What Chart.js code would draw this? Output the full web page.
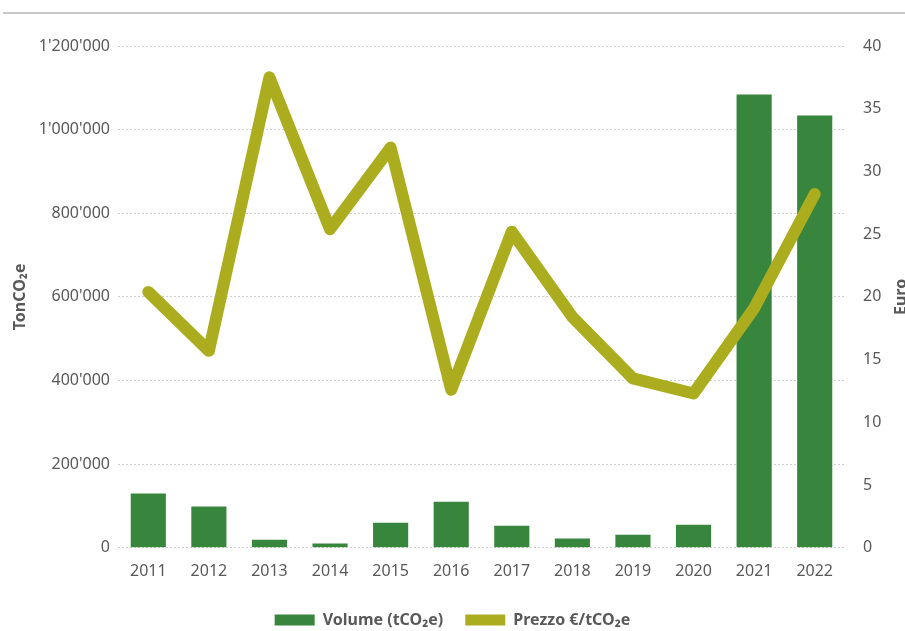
<!DOCTYPE html>
<html>
<head>
<meta charset="utf-8">
<script src="https://cdn.jsdelivr.net/npm/chart.js@4"></script>
<style>
  html, body { margin: 0; padding: 0; background: #fff; overflow: hidden; }
  #wrap { position: relative; width: 905px; height: 631px; overflow: hidden; }
  #rule { position: absolute; left: 3px; right: 0; top: 12px; height: 2px; background: #c8c8c8; }
  canvas { position: absolute; left: 0; top: 0; }
</style>
</head>
<body>
<div id="wrap">
  <div id="rule"></div>
  <canvas id="chart" width="905" height="638"></canvas>
</div>
<script>
// dati
const anni = ['2011', '2012', '2013', '2014', '2015', '2016', '2017', '2018', '2019', '2020', '2021', '2022'];
const volumi = [130000, 99000, 19000, 10000, 60000, 110000, 53000, 22000, 31000, 55000, 1084000, 1034000];
const prezzi = [20.4, 15.7, 37.5, 25.4, 31.9, 12.6, 25.2, 18.4, 13.5, 12.3, 19.1, 28.2];

const grigio = '#595959';
const fontName = "'Noto Sans', sans-serif";

function apostrofi(v) {
    return String(v).replace(/\B(?=(\d{3})+(?!\d))/g, "'");
}

// titoli degli assi disegnati a mano (tutti e due leggono dal basso verso l'alto)
const titoliAssi = {
    id: 'titoliAssi',
    afterDraw(chart) {
        const ctx = chart.ctx;
        const mid = (chart.chartArea.top + chart.chartArea.bottom) / 2;
        ctx.save();
        ctx.fillStyle = grigio;
        ctx.font = 'bold 16px ' + fontName;
        ctx.textAlign = 'center';
        ctx.textBaseline = 'alphabetic';
        [['TonCO₂e', 25], ['Euro', 906]].forEach(([txt, x]) => {
            ctx.save();
            ctx.translate(x, mid);
            ctx.rotate(-Math.PI / 2);
            ctx.fillText(txt, 0, 0);
            ctx.restore();
        });
        ctx.restore();
    }
};

const ctx = document.getElementById('chart').getContext('2d');
const chart = new Chart(ctx, {
    data: {
        labels: anni,
        datasets: [{
            type: 'line',
            label: 'Prezzo €/tCO₂e',
            data: prezzi,
            yAxisID: 'yPrezzo',
            borderColor: '#acad1e',
            backgroundColor: '#acad1e',
            borderWidth: 12,
            borderJoinStyle: 'round',
            borderCapStyle: 'round',
            pointRadius: 0,
            tension: 0,
            order: 1
        }, {
            type: 'bar',
            label: 'Volume (tCO₂e)',
            data: volumi,
            yAxisID: 'yVolume',
            backgroundColor: '#38853d',
            barPercentage: 0.58,
            categoryPercentage: 1.0,
            order: 2
        }]
    },
    options: {
        responsive: false,
        animation: false,
        layout: { padding: { top: 46, left: 0, right: 0, bottom: 0 } },
        plugins: {
            tooltip: { enabled: false },
            legend: {
                position: 'bottom',
                reverse: true,
                labels: {
                    color: grigio,
                    font: { family: fontName, size: 16, weight: 'bold' },
                    boxWidth: 40,
                    boxHeight: 11,
                    padding: 22,
                    generateLabels(chart) {
                        return chart.data.datasets.map((ds, i) => ({
                            text: ds.label,
                            fillStyle: ds.backgroundColor,
                            strokeStyle: ds.backgroundColor,
                            lineWidth: 0,
                            fontColor: grigio,
                            hidden: false,
                            datasetIndex: i
                        }));
                    }
                }
            }
        },
        scales: {
            x: {
                grid: { display: false, drawTicks: false },
                border: { display: false },
                afterFit(scale) { scale.height -= 5; },
                ticks: { color: grigio, font: { family: fontName, size: 16 }, padding: 14 }
            },
            yVolume: {
                position: 'left',
                min: 0,
                max: 1200000,
                afterFit(scale) { scale.width = 118; },
                ticks: {
                    stepSize: 200000,
                    color: grigio,
                    font: { family: fontName, size: 16 },
                    padding: 8,
                    callback: v => apostrofi(v)
                },
                grid: { color: '#cfcfcf', lineWidth: 1, drawTicks: false },
                border: { display: false, dash: [2, 2] }
            },
            yPrezzo: {
                position: 'right',
                min: 0,
                max: 40,
                afterFit(scale) { scale.width = 60; },
                ticks: {
                    stepSize: 5,
                    color: grigio,
                    font: { family: fontName, size: 16 },
                    padding: 18
                },
                grid: { display: false, drawTicks: false },
                border: { display: false }
            }
        }
    },
    plugins: [titoliAssi]
});
</script>
</body>
</html>
